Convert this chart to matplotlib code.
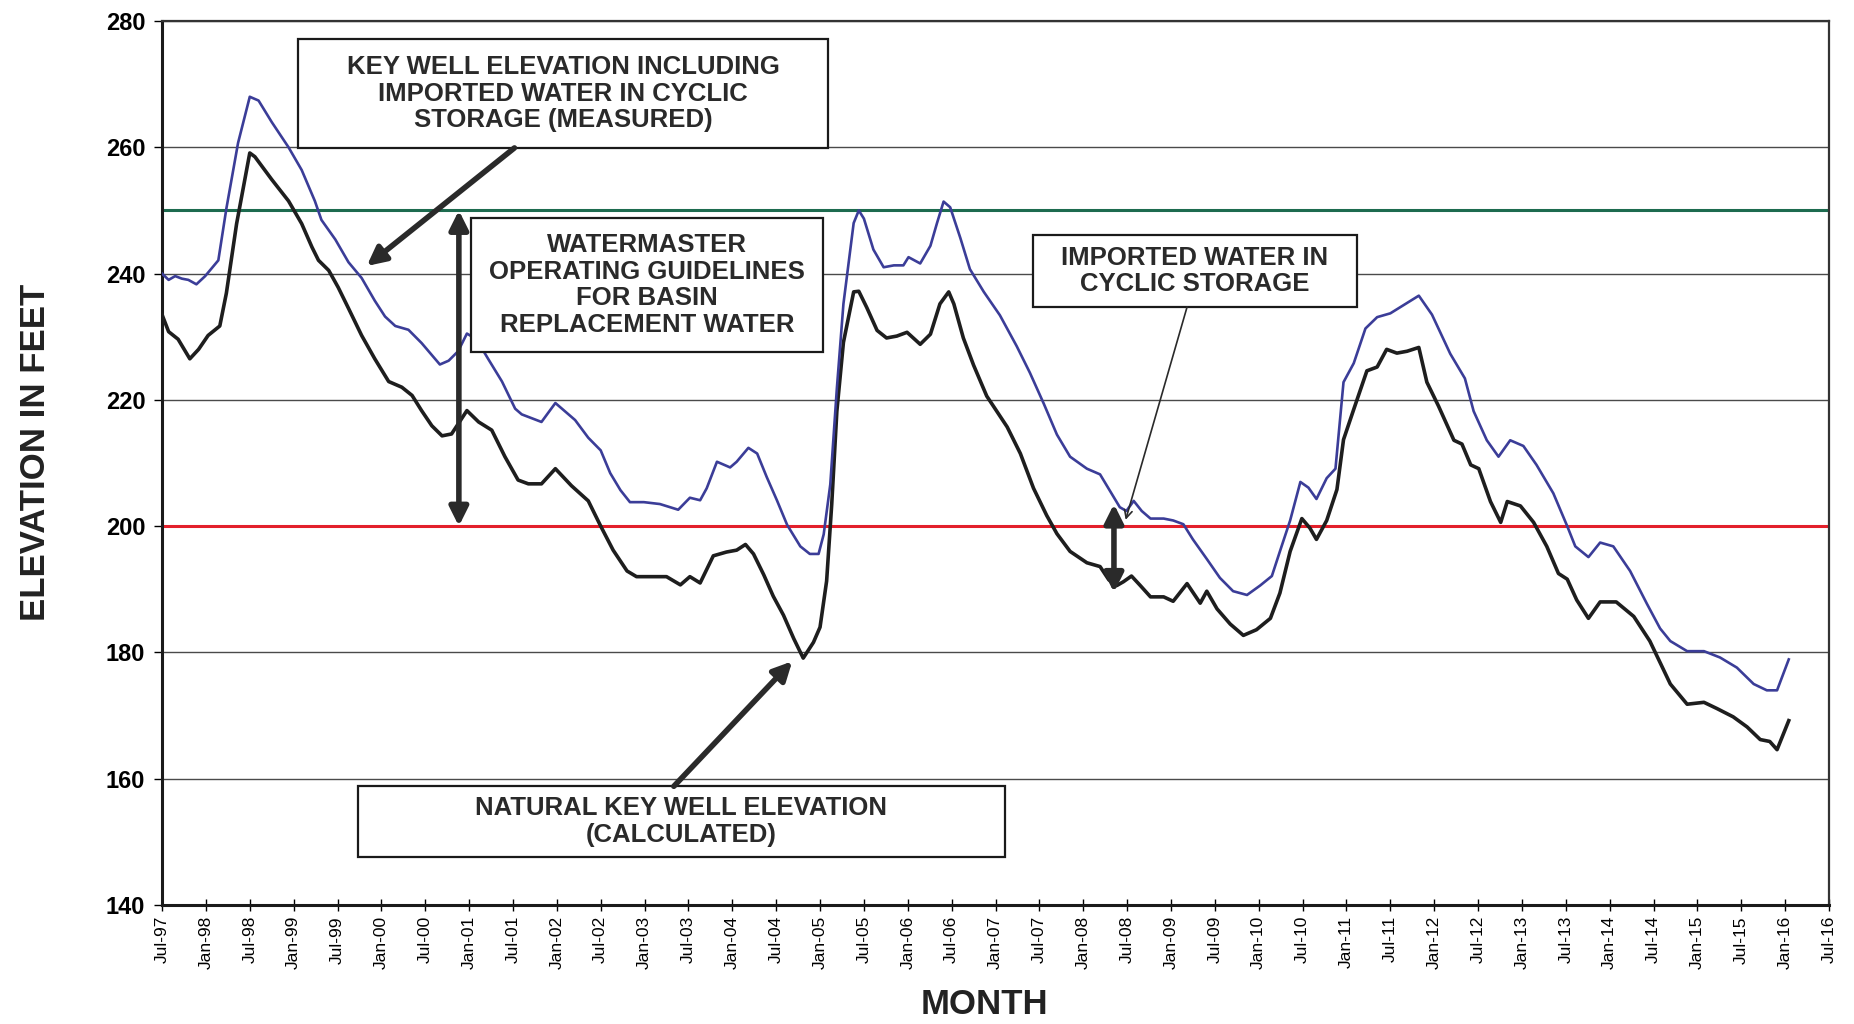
import numpy as np
import pandas as pd
import matplotlib
matplotlib.use("Agg")
import matplotlib.pyplot as plt
from matplotlib.patches import Rectangle

plt.rcParams['font.family'] = ['Liberation Sans', 'DejaVu Sans']

# months counted from Jul-97, elevations in feet
meas_month = [0, 0.9, 1.8, 2.7, 3.6, 4.7, 5.9, 7.7, 8.8, 10.4, 12, 13.2, 15, 17.3, 19.1, 20.9,
              21.8, 23.7, 25.5, 27.3, 29.1, 30.5, 31.9, 33.7, 35.5, 36.9, 38, 39.2, 40.5, 41.7,
              43, 44.6, 46.5, 48.3, 49.2, 51.9, 53.8, 56.5, 58.3, 60, 61.3, 62.7, 64, 65.9,
              68.1, 70.6, 72.2, 73.6, 74.5, 75.9, 77.7, 78.6, 80.2, 81.4, 82.7, 84.1, 85.5,
              87.3, 88.6, 89.8, 90.5, 91.4, 92.3, 93.2, 94.6, 95.3, 96, 97.3, 98.7, 100.1,
              101.4, 102.1, 103.7, 105.1, 106, 106.9, 107.8, 109.2, 110.5, 112.4, 114.6, 116.9,
              118.7, 120.6, 122.4, 124.2, 126.5, 128.3, 129.7, 131, 131.9, 132.9, 134, 135.2,
              137, 138.3, 139.7, 141, 142.9, 144.7, 146.5, 148.4, 150.2, 151.8, 152.9, 154.3,
              155.7, 156.8, 157.9, 159.3, 160.5, 161.6, 163, 164.6, 166.2, 168, 169.8, 171.9,
              173.7, 176.2, 178.2, 179.4, 181.2, 182.8, 184.4, 186.2, 188, 190.3, 192.2, 193.3,
              195.1, 196.7, 198.5, 200.8, 203.1, 204.9, 206.3, 208.6, 210.9, 213.1, 215.4,
              217.7, 219.5, 220.9, 222.5]
meas_ft = [240, 239, 239.6, 239.2, 239, 238.3, 239.6, 242.1, 250.3, 260.7, 268, 267.4, 264, 260,
           256.4, 251.5, 248.5, 245.4, 241.8, 239.3, 235.7, 233.2, 231.7, 231.1, 229, 227.1,
           225.6, 226.2, 227.7, 230.5, 229.6, 226.5, 222.9, 218.6, 217.7, 216.5, 219.5, 216.8,
           214, 212, 208.4, 205.7, 203.8, 203.8, 203.5, 202.6, 204.5, 204.1, 206, 210.2, 209.3,
           210.2, 212.4, 211.5, 207.8, 204.1, 200.2, 196.8, 195.6, 195.6, 198.7, 206.6, 221.8,
           235.2, 248, 250, 248.7, 243.8, 241, 241.3, 241.3, 242.6, 241.6, 244.4, 248, 251.4,
           250.5, 245.6, 240.7, 237.1, 233.4, 228.5, 224.3, 219.4, 214.5, 211, 209.1, 208.2,
           205.5, 203, 202.4, 204, 202.4, 201.2, 201.2, 200.9, 200.3, 197.9, 194.8, 191.8,
           189.7, 189.1, 190.6, 192.1, 196, 200.9, 207, 206.1, 204.3, 207.6, 209.1, 222.8,
           225.8, 231.3, 233.1, 233.7, 235, 236.5, 233.5, 227.3, 223.4, 218.2, 213.6, 211,
           213.6, 212.7, 209.7, 205.2, 200, 196.8, 195.1, 197.4, 196.8, 192.9, 187.7, 183.8,
           181.8, 180.2, 180.2, 179.2, 177.6, 175, 174, 174, 178.9]

nat_month = [0, 0.9, 2.2, 3.8, 5, 6.3, 7.9, 8.8, 10.2, 12, 12.7, 15, 17.3, 19.1, 20.5, 21.4,
             22.8, 24.1, 25.5, 27.3, 29.1, 31, 32.8, 34.2, 35.5, 36.9, 38.3, 39.6, 41.7, 43.3,
             45.1, 46.9, 48.7, 50.1, 51.9, 53.8, 56, 58.3, 60, 61.7, 63.6, 64.9, 67.2, 69, 70.9,
             72.2, 73.6, 75.4, 77.2, 78.6, 79.8, 80.9, 82.3, 83.6, 85, 86.4, 87.7, 89.1, 90,
             90.9, 91.6, 92.3, 93.2, 94.6, 95.3, 96.4, 97.8, 99.1, 100.5, 101.9, 103.7, 105.1,
             106.4, 107.6, 108.3, 109.6, 111, 112.8, 115.6, 117.4, 119.2, 121, 122.4, 124.2,
             126.5, 128.3, 129.5, 130.6, 131.5, 132.6, 133.8, 135.2, 137, 138.3, 140.2, 142,
             142.9, 144.3, 146.1, 147.9, 149.7, 151.6, 152.9, 154.3, 155.9, 157, 157.9, 159.3,
             160.7, 161.6, 163, 164.8, 166.2, 167.5, 168.9, 170.3, 171.9, 173, 174.6, 176.7,
             177.8, 179, 180.1, 181.7, 183.1, 184, 185.8, 187.6, 189.4, 191, 192.2, 193.5,
             195.1, 196.7, 198.9, 201.3, 203.5, 206.3, 208.6, 210.9, 212.7, 214.9, 216.8,
             218.6, 219.9, 220.9, 222.5]
nat_ft = [233.5, 230.8, 229.6, 226.5, 228, 230.2, 231.7, 236.9, 247.9, 259.1, 258.5, 254.9,
          251.5, 247.9, 244.2, 242.1, 240.5, 237.8, 234.5, 230.2, 226.5, 222.9, 222, 220.7,
          218.3, 215.9, 214.3, 214.6, 218.3, 216.5, 215.2, 211, 207.3, 206.7, 206.7, 209.1,
          206.4, 204, 200, 196.2, 192.9, 192, 192, 192, 190.7, 192, 191, 195.3, 195.9, 196.2,
          197.1, 195.6, 192.3, 188.9, 185.9, 182.2, 179.1, 181.6, 184, 191.3, 203.5, 218.2,
          229.1, 237.1, 237.2, 234.6, 231, 229.8, 230.1, 230.7, 228.8, 230.4, 235.2, 237.1,
          235.2, 229.8, 225.5, 220.6, 215.7, 211.5, 206, 201.7, 198.8, 196, 194.2, 193.6,
          191.5, 190.6, 191.2, 192.1, 190.6, 188.8, 188.8, 188.1, 190.9, 187.8, 189.7, 186.9,
          184.5, 182.7, 183.6, 185.4, 189.4, 196, 201.2, 199.7, 197.9, 200.9, 205.8, 213.7,
          218.5, 224.6, 225.2, 228, 227.4, 227.7, 228.3, 222.8, 219, 213.6, 213, 209.7, 209.1,
          203.9, 200.6, 203.9, 203.2, 200.6, 196.8, 192.5, 191.6, 188.3, 185.4, 188, 188,
          185.7, 181.8, 175, 171.8, 172.1, 171.1, 169.8, 168.2, 166.2, 165.9, 164.6, 169.2]

guide_high = 250
guide_low = 200
tick_labels = list(pd.date_range('1997-07-01', '2016-07-01', freq='6MS').strftime('%b-%y'))
tick_pos = np.arange(len(tick_labels)) * 6

fig = plt.figure(figsize=(18.54, 10.24), dpi=100)
ax = fig.add_axes([0.0874, 0.1162, 0.8991, 0.8633])

ax.set_xlim(0, 228)
ax.set_ylim(140, 280)
ax.set_yticks(np.arange(140, 281, 20))
ax.yaxis.grid(True, color='#4a4a4a', lw=1.0)
ax.set_axisbelow(True)

ax.axhline(guide_high, color='#1d6b4f', lw=2.2, zorder=2)
ax.axhline(guide_low, color='#e3202b', lw=2.2, zorder=2)
ax.plot(nat_month, nat_ft, color='#1e1e1e', lw=2.6, zorder=3)
ax.plot(meas_month, meas_ft, color='#3b3d98', lw=1.9, zorder=3)

ax.set_xticks(tick_pos)
ax.set_xticklabels(tick_labels, rotation=90, fontsize=12.5)
ax.tick_params(axis='x', direction='inout', length=8, width=1, pad=4)
ax.tick_params(axis='y', direction='out', length=6, width=1, pad=6, labelsize=17)
for lab in ax.get_yticklabels():
    lab.set_fontweight('bold')

for side in ['left', 'bottom']:
    ax.spines[side].set_linewidth(2.2)
    ax.spines[side].set_color('#1a1a1a')
for side in ['top', 'right']:
    ax.spines[side].set_linewidth(1.6)
    ax.spines[side].set_color('#333333')

fig.text(0.019, 0.558, 'ELEVATION IN FEET', rotation=90, ha='center', va='center',
         fontsize=25, fontweight='bold', color='#222')
fig.text(0.531, 0.019, 'MONTH', ha='center', va='center', fontsize=25,
         fontweight='bold', color='#222')

# annotation boxes: (x0, x1, y0, y1) in months / feet
boxes = [
    ((18.6, 91.1, 259.9, 277.1), 'KEY WELL ELEVATION INCLUDING\nIMPORTED WATER IN CYCLIC\nSTORAGE (MEASURED)'),
    ((42.3, 90.4, 227.6, 248.8), 'WATERMASTER\nOPERATING GUIDELINES\nFOR BASIN\nREPLACEMENT WATER'),
    ((119.1, 163.4, 234.7, 246.1), 'IMPORTED WATER IN\nCYCLIC STORAGE'),
    ((26.8, 115.3, 147.6, 158.8), 'NATURAL KEY WELL ELEVATION\n(CALCULATED)'),
]
for (x0, x1, y0, y1), txt in boxes:
    ax.add_patch(Rectangle((x0, y0), x1 - x0, y1 - y0, facecolor='white',
                           edgecolor='#1a1a1a', lw=1.6, zorder=5))
    ax.text((x0 + x1) / 2, (y0 + y1) / 2, txt, ha='center', va='center', fontsize=18.5,
            fontweight='bold', color='#2a2a2a', linespacing=1.15, zorder=6)

thick = dict(arrowstyle='-|>', lw=4, color='#2a2a2a', mutation_scale=28, shrinkA=0, shrinkB=0)
ax.annotate('', xy=(28, 241.2), xytext=(48.2, 259.9), arrowprops=thick, zorder=7)
ax.annotate('', xy=(86.2, 178.6), xytext=(70, 158.8), arrowprops=thick, zorder=7)

dbl = dict(arrowstyle='<|-|>', lw=4, color='#2a2a2a', mutation_scale=28, shrinkA=0, shrinkB=0)
ax.annotate('', xy=(40.6, 250), xytext=(40.6, 200), arrowprops=dbl, zorder=7)
ax.annotate('', xy=(130.2, 203.5), xytext=(130.2, 189.5), arrowprops=dbl, zorder=7)

ax.annotate('', xy=(131.8, 201), xytext=(140.2, 234.7),
            arrowprops=dict(arrowstyle='->', lw=1.2, color='#2a2a2a', mutation_scale=14,
                            shrinkA=0, shrinkB=0), zorder=7)

fig.savefig('out.png', dpi=100, facecolor='white')
